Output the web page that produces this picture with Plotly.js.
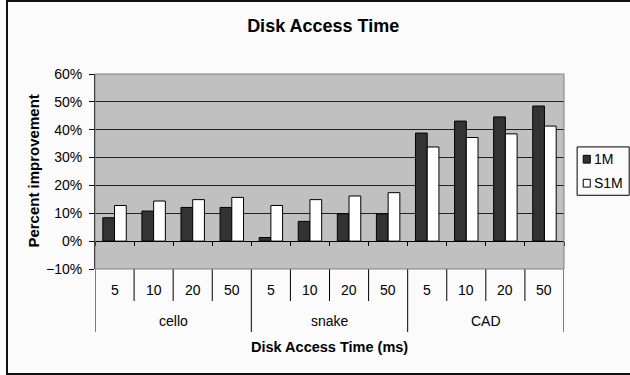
<!DOCTYPE html>
<html>
<head>
<meta charset="utf-8">
<script src="https://cdn.plot.ly/plotly-3.0.1.min.js"></script>
<style>
  html, body { margin: 0; padding: 0; background: #fbfbfb; }
  #chart { position: absolute; left: 0; top: 0; width: 630px; height: 375px; }
  #frame { position: absolute; left: 6px; top: 0px; width: 640px; height: 375px;
           border-left: 2px solid #111; border-top: 2px solid #111; border-bottom: 2px solid #111;
           pointer-events: none; box-sizing: border-box; }
</style>
</head>
<body>
<div id="chart"></div>
<div id="frame"></div>
<script>
// Data
const groups = ["cello", "snake", "CAD"];
const accessTimes = ["5", "10", "20", "50"];
const series1M  = [8.4, 10.8, 12.1, 12.1,  1.3, 7.1, 9.8, 9.8,  38.8, 43.1, 44.6, 48.5];
const seriesS1M = [12.8, 14.4, 14.9, 15.7, 12.8, 14.9, 16.2, 17.4, 33.8, 37.2, 38.5, 41.3];
const seriesNames = ["1M", "S1M"];
const yTicks = [-10, 0, 10, 20, 30, 40, 50, 60];

const outer = [], inner = [];
groups.forEach(g => accessTimes.forEach(t => { outer.push(g); inner.push(t); }));
const n = inner.length, per = accessTimes.length;

const font = "Liberation Sans, Arial, sans-serif";
const black = "#000";
const barColors = ["#333333", "#ffffff"];

const traces = [
  { type: "bar", name: seriesNames[0], x: [outer, inner], y: series1M.map(v => v / 100),
    marker: { color: barColors[0], line: { color: black, width: 1 } } },
  { type: "bar", name: seriesNames[1], x: [outer, inner], y: seriesS1M.map(v => v / 100),
    marker: { color: barColors[1], line: { color: black, width: 1 } } },
  // helper trace so the index axis (used for labels and ticks on the zero line) is active
  { type: "scatter", mode: "none", x: inner.map((_, i) => i), y: inner.map(() => 0),
    xaxis: "x2", yaxis: "y", showlegend: false, hoverinfo: "skip" }
];

// Category labels and dividers (Excel-style nested category axis)
const annotations = [];
const shapes = [];
const yInner = -0.108, yOuter = -0.265, innerDivEnd = -0.164, outerDivEnd = -0.323;
inner.forEach((t, i) => {
  annotations.push({ xref: "x2", yref: "paper", x: i, y: yInner, text: t, showarrow: false,
    xanchor: "center", yanchor: "middle", font: { family: font, size: 14, color: black } });
  if (i % per !== 0) {
    shapes.push({ type: "line", xref: "x2", yref: "paper", x0: i - 0.5, x1: i - 0.5,
      y0: 0, y1: innerDivEnd, line: { color: black, width: 1 } });
  }
});
groups.forEach((g, k) => {
  annotations.push({ xref: "x2", yref: "paper", x: k * per + (per - 1) / 2, y: yOuter, text: g,
    showarrow: false, xanchor: "center", yanchor: "middle", font: { family: font, size: 14, color: black } });
});
for (let k = 0; k <= groups.length; k++) {
  shapes.push({ type: "line", xref: "x2", yref: "paper", x0: k * per - 0.5, x1: k * per - 0.5,
    y0: 0, y1: outerDivEnd, line: { color: black, width: 1 } });
}
// Axis titles
annotations.push({ xref: "paper", yref: "paper", x: 0.5, y: -0.40, text: "<b>Disk Access Time (ms)</b>",
  showarrow: false, xanchor: "center", yanchor: "middle", font: { family: font, size: 14.5, color: black } });
annotations.push({ xref: "paper", yref: "paper", x: -0.132, y: 0.5, text: "<b>Percent improvement</b>",
  textangle: -90, showarrow: false, xanchor: "center", yanchor: "middle", font: { family: font, size: 15, color: black } });

// Legend (Excel style compact box)
const legX0 = 1.028, legX1 = 1.139, legY0 = 0.378, legY1 = 0.626;
shapes.push({ type: "rect", xref: "paper", yref: "paper", x0: legX0, x1: legX1, y0: legY0, y1: legY1,
  line: { color: black, width: 1 }, fillcolor: "#fbfbfb" });
seriesNames.forEach((name, j) => {
  const yc = j === 0 ? 0.563 : 0.44;
  shapes.push({ type: "rect", xref: "paper", yref: "paper", x0: 1.041, x1: 1.056, y0: yc - 0.02, y1: yc + 0.02,
    line: { color: black, width: 1 }, fillcolor: barColors[j] });
  annotations.push({ xref: "paper", yref: "paper", x: 1.060, y: yc, text: name, showarrow: false,
    xanchor: "left", yanchor: "middle", font: { family: font, size: 14, color: black } });
});
// Plot-area border
shapes.push({ type: "rect", xref: "paper", yref: "paper", x0: 0, x1: 1, y0: 0, y1: 1,
  line: { color: "#808080", width: 1 }, fillcolor: "rgba(0,0,0,0)", layer: "above" });

const layout = {
  width: 630, height: 375,
  paper_bgcolor: "#fbfbfb",
  plot_bgcolor: "#c0c0c0",
  margin: { l: 95, r: 66, t: 74, b: 106, autoexpand: false },
  font: { family: font, size: 14, color: black },
  title: { text: "<b>Disk Access Time</b>", xref: "container", x: 0.513, xanchor: "center",
           yref: "container", y: 0.931, yanchor: "middle",
           font: { family: font, size: 18, color: black } },
  barmode: "group",
  bargap: 0.4,
  bargroupgap: 0,
  showlegend: false,
  xaxis: {
    type: "multicategory",
    showgrid: false, zeroline: false, showline: false,
    ticks: "", showdividers: false, showticklabels: false
  },
  xaxis2: {
    overlaying: "x", anchor: "free", position: 1 / 7,
    range: [-0.5, n - 0.5], tick0: -0.5, dtick: 1, showgrid: false, zeroline: false,
    showline: true, linecolor: black, linewidth: 1,
    ticks: "outside", ticklen: 4, tickcolor: black, showticklabels: false
  },
  yaxis: {
    range: [-0.1, 0.6], tickvals: yTicks.map(v => v / 100), tickformat: ".0%",
    showgrid: true, gridcolor: "#222", gridwidth: 1,
    zeroline: false,
    showline: true, linecolor: black, linewidth: 1,
    ticks: "outside", ticklen: 5, tickcolor: black, ticklabelstandoff: 4,
    tickfont: { family: font, size: 14, color: black }
  },
  annotations: annotations,
  shapes: shapes
};

Plotly.newPlot("chart", traces, layout, { displayModeBar: false, staticPlot: true });
</script>
</body>
</html>
